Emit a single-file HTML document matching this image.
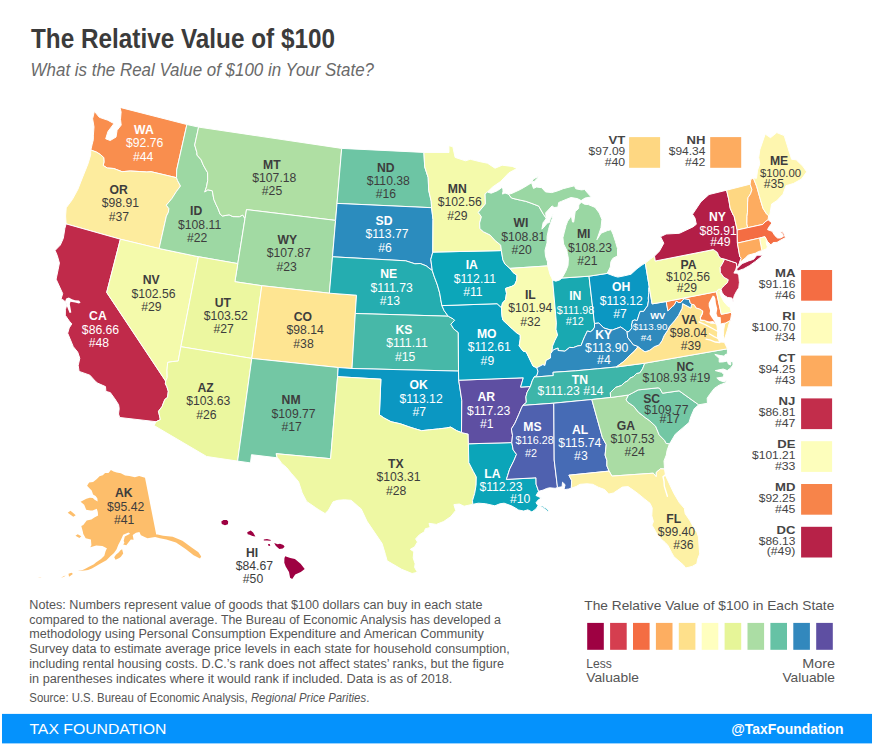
<!DOCTYPE html>
<html><head><meta charset="utf-8"><title>The Relative Value of $100</title>
<style>
html,body{margin:0;padding:0;background:#fff;}
body{width:872px;height:744px;overflow:hidden;position:relative;font-family:"Liberation Sans",sans-serif;}
svg{position:absolute;left:0;top:0;}
svg text{font-family:"Liberation Sans",sans-serif;text-anchor:middle;}
svg .l{text-anchor:start;}
svg .r{text-anchor:end;}
</style></head><body>
<svg width="872" height="744" viewBox="0 0 872 744">
<g stroke="#fff" stroke-width="1" stroke-linejoin="round">
<path d="M94.4,111.3L99.3,117.3L107.8,120.2L112.5,122.8L113.7,123.9L108,131.4L105.7,138.8L110.2,140.5L116,137.1L117.1,130.3L121.2,125.1L120.5,119.3L121.1,112L120,107.4L186.9,124.5L176.7,169.9L176.5,177.7L151.1,171.7L146.9,172L139.2,171.5L130.2,171L122.1,171.7L113.8,168.5L107.3,168L103.2,165.5L104,161.9L103.7,157.5L100.6,154.7L96.7,152.2L90.8,150L92.2,144.2L93.3,139.8L93.4,135.1L94,126.8L92.6,118.8Z" fill="#f98e4e"/>
<path d="M90.8,150L96.7,152.2L100.6,154.7L103.7,157.5L104,161.9L103.2,165.5L107.3,168L113.8,168.5L122.1,171.7L130.2,171L139.2,171.5L146.9,172L151.1,171.7L176.5,177.7L177.5,180.5L180.5,186L176.2,191.8L173.4,196.2L172.1,198.3L166.3,205.2L168.9,208.6L168.4,212.2L166.4,216.1L159.1,248.5L120.4,239.2L66.1,223.9L65.6,216L66.2,207.8L72.3,199.6L77.9,189.3L81.9,179L88,163.8L90.6,155.1Z" fill="#fdec9e"/>
<path d="M66.1,223.9L120.4,239.2L106.7,292.4L165.6,381L165.4,383.8L166.8,386.5L168.3,391.3L167.6,397.3L164.8,399.5L162.1,406.5L158.5,411.3L160.4,419.6L156.1,421.7L119.7,417.5L118.5,414L119.2,408.6L118.6,404.7L114.9,398.9L110.3,392.6L105.9,391.4L105.5,386.6L97.8,383.2L95.3,381.2L89.9,375.2L79.1,371.4L78.2,365.5L79.8,358.3L77.7,352.1L73.3,346.7L67.7,333.2L69.2,327.9L71.8,323.9L69.3,321.1L65.3,315.3L65.4,309.7L66.9,304.4L64.3,300.7L61.1,298.9L62.7,293.6L56.1,279.2L58.2,269.3L59.4,263L57.3,255.6L55.1,250.4L60.3,245.1L63.3,238.3L64.9,228.3Z" fill="#c02a4a"/>
<path d="M120.4,239.2L159.1,248.5L198.4,256.7L180.9,346.7L178.2,361.1L172.9,361.5L167.7,362.4L167,370.1L167.2,377.6L165.6,381L106.7,292.4Z" fill="#f4faab"/>
<path d="M186.9,124.5L198.6,127.1L194.7,145L196.9,152.5L197,155.1L201.1,159.8L203.2,164.9L206,170L207.6,172.6L207.7,180.5L206.5,186.8L204.8,192L207.8,189.8L212.3,190.8L213.8,199.3L216.2,204.9L217.8,208.1L220.2,214.3L222.5,216L229.1,214.8L232.9,216.6L239.4,216.7L242.7,215L245,218.6L237.8,263.6L198.4,256.7L159.1,248.5L166.4,216.1L168.4,212.2L168.9,208.6L166.3,205.2L172.1,198.3L173.4,196.2L176.2,191.8L180.5,186L177.5,180.5L176.5,177.7L176.7,169.9Z" fill="#9dd8a3"/>
<path d="M198.6,127.1L341.7,148.4L337,203.4L335.6,220.4L246.5,209.6L245,218.6L242.7,215L239.4,216.7L232.9,216.6L229.1,214.8L222.5,216L220.2,214.3L217.8,208.1L216.2,204.9L213.8,199.3L212.3,190.8L207.8,189.8L204.8,192L206.5,186.8L207.7,180.5L207.6,172.6L206,170L203.2,164.9L201.1,159.8L197,155.1L196.9,152.5L194.7,145Z" fill="#afdfa3"/>
<path d="M245,218.6L246.5,209.6L335.6,220.4L332.5,256.8L329.4,293.2L261.8,285.7L234.9,281.7L237.8,263.6Z" fill="#a2daa3"/>
<path d="M198.4,256.7L237.8,263.6L234.9,281.7L261.8,285.7L251.8,358.4L180.9,346.7Z" fill="#ecf7a0"/>
<path d="M261.8,285.7L329.4,293.2L356.5,295.2L355.3,313.5L352,368.5L338.2,367.5L251.8,358.4Z" fill="#fee592"/>
<path d="M180.9,346.7L251.8,358.4L237.6,461.1L206.7,456.5L154,425.5L156.1,421.7L160.4,419.6L158.5,411.3L162.1,406.5L164.8,399.5L167.6,397.3L168.3,391.3L166.8,386.5L165.4,383.8L165.6,381L167.2,377.6L167,370.1L167.7,362.4L172.9,361.5L178.2,361.1Z" fill="#ebf79f"/>
<path d="M251.8,358.4L338.2,367.5L337.6,376.7L330.6,458.7L276.2,453.7L277.2,457.8L251.5,454.7L250.5,462.9L237.6,461.1Z" fill="#73c7a4"/>
<path d="M341.7,148.4L423.9,152.4L424.7,166.8L428.2,177.7L428.7,190.3L431.2,201.2L431.6,207.7L337,203.4Z" fill="#6dc5a4"/>
<path d="M337,203.4L431.6,207.7L433,219.4L432.8,252.1L430.8,259.4L432.3,270.6L426.1,265.8L420.2,263.5L414.9,263.8L405.7,260.8L332.5,256.8L335.6,220.4Z" fill="#2b8cbe"/>
<path d="M332.5,256.8L405.7,260.8L414.9,263.8L420.2,263.5L426.1,265.8L432.3,270.6L434,275.9L437.4,285L439.7,293.1L440.8,299.7L441.9,305.6L444.2,310.7L448.2,316.2L355.3,313.5L356.5,295.2L329.4,293.2Z" fill="#25adb0"/>
<path d="M355.3,313.5L448.2,316.2L453.2,318.9L454.6,320.3L450.9,324.2L453.7,328.9L458.3,332.5L458.5,371.1L352,368.5Z" fill="#47b8a8"/>
<path d="M338.2,367.5L352,368.5L458.5,371.1L458.7,380.2L461.8,400.4L461.5,432.6L456.7,430.7L450.7,427.1L446.2,428L438.7,428.9L429.7,429.8L421.5,430.7L414.8,428.7L408.8,426.8L400.4,423.8L391,421.7L383.7,417.8L379.4,414.7L380.9,379.2L337.6,376.7Z" fill="#0b97c2"/>
<path d="M337.6,376.7L380.9,379.2L379.4,414.7L383.7,417.8L391,421.7L400.4,423.8L408.8,426.8L414.8,428.7L421.5,430.7L429.7,429.8L438.7,428.9L446.2,428L450.7,427.1L456.7,430.7L461.5,432.6L468.2,434.1L468.4,443.8L468.8,462.6L473.4,471.5L476.3,476.9L476.1,485.1L474.7,493.3L472.5,500.6L472.8,504.3L464.1,506.2L459.4,504L453.9,504.6L455.7,510.5L450.8,516.6L443.7,521.5L436.3,524.4L429,523.3L430.2,527.5L425.4,528.7L424.3,531.8L419.4,534.8L415.6,538.9L417.5,542L414.5,546.9L410.3,549.3L413.8,551.7L413.2,557.9L415.1,563.8L414.6,567.4L417.4,572.3L412.1,573.5L401.7,569.3L392.8,564.1L387.1,560.8L385.4,554.4L382.1,543.5L366.9,521.1L361.1,508.8L358.9,507.1L351.2,500.3L344.3,499.8L337.9,500.3L333.1,501.8L328.5,510.1L325.1,513.6L318.2,509.4L315.5,507.6L306.6,501.4L302.2,492.9L298.5,481.6L291.5,473.6L286.6,467.6L281.7,463.4L278.3,458.5L277.2,457.8L276.2,453.7L330.6,458.7Z" fill="#eef8a3"/>
<path d="M468.4,443.8L511.8,442.6L513.2,449.9L516.5,454.3L513.8,460.8L509.6,469.2L507.6,475.7L506.4,479.4L536,477.8L536.1,484.2L538.6,491.3L536,495.5L541.3,498L538.1,500.1L536,502.8L538.1,505.7L536,508.9L531.9,511.9L527.8,509.8L523.7,511L518.6,510L515.4,508L511.4,505.8L504.1,503.2L499.9,503.8L494.8,505.8L485.5,503.7L478.3,503.2L472.8,504.3L472.5,500.6L474.7,493.3L476.1,485.1L476.3,476.9L473.4,471.5L468.8,462.6ZM539.6,506.3L543.2,507.7L547.4,511.3L549,511.1L545.6,508.1L542.3,506Z" fill="#0ba5b9"/>
<path d="M458.7,380.2L523.3,377.8L520.6,387.1L530.4,386.5L527.1,392.2L525.9,396.9L526.3,402.4L522.8,405.4L521.4,408.2L518.8,414.4L514.9,423.2L511.4,428.9L512.5,435.3L511.8,442.6L468.4,443.8L468.2,434.1L461.5,432.6L461.8,400.4Z" fill="#5e4fa2"/>
<path d="M441.9,305.6L497.1,303.7L501.5,307.7L502,315.9L502.9,320.1L507.5,324.5L512.3,328.8L517,333.1L520.2,334.8L520.3,338.8L519.2,345.9L523.1,351.1L526.2,351.9L531.4,362.6L533.1,366.1L536.8,367.7L538,371.3L536.9,375.6L534.1,377.1L532.2,380.9L530.4,386.5L520.6,387.1L523.3,377.8L458.7,380.2L458.5,371.1L458.3,332.5L453.7,328.9L450.9,324.2L454.6,320.3L453.2,318.9L448.2,316.2L444.2,310.7Z" fill="#0aa0bf"/>
<path d="M432.8,252.1L501.4,250.6L502.8,259.6L505,264.1L510,268.4L513.2,272.6L517,275.3L516.7,280.1L514.8,284.6L512,286.3L505.6,288.4L506.5,293.3L505.5,299.8L502.5,303.1L501.5,307.7L497.1,303.7L441.9,305.6L440.8,299.7L439.7,293.1L437.4,285L434,275.9L432.3,270.6L430.8,259.4Z" fill="#0ca6b9"/>
<path d="M423.9,152.4L449,152.5L448.9,145.7L452.8,146.7L455.1,157.4L465.5,160.8L470.3,159.3L480.1,161.7L487.5,163.2L495,168.2L502.2,165.2L512.1,166.4L517.1,168.4L508.8,172.9L500.6,181.5L492.6,187L487.4,192.1L485.1,193.8L485.4,203.9L478.3,212.4L481.4,216.8L479.6,223L479.9,228.7L483.5,231.8L490.1,235L495.4,240.8L500.7,245.1L501.4,250.6L432.8,252.1L433,219.4L431.6,207.7L431.2,201.2L428.7,190.3L428.2,177.7L424.7,166.8Z" fill="#f4faab"/>
<path d="M487.4,192.1L491.2,193.2L497.4,190.7L501.6,187.8L502.9,188.6L503,191.3L502.5,194.1L505,193L508.6,194.3L511.6,198.1L520.5,200.2L525.7,201.3L530.9,203.1L538.7,206.1L543.2,213.9L546.2,218.2L544.5,221.1L543.2,222.3L541.9,229.2L545.3,225.6L547.2,223.1L549.4,222.5L550.3,218.8L552.1,216.1L553.2,214.1L552.2,218.4L551.7,219.9L550.5,223.3L549.2,227.1L548.5,229.7L547.1,236.4L547,242.9L545,250.4L545.5,256.2L547.4,261.7L547.7,265.9L510,268.4L505,264.1L502.8,259.6L501.4,250.6L500.7,245.1L495.4,240.8L490.1,235L483.5,231.8L479.9,228.7L479.6,223L481.4,216.8L478.3,212.4L485.4,203.9L485.1,193.8Z" fill="#8ed2a3"/>
<path d="M510,268.4L547.7,265.9L550.1,274.7L551.4,277.3L552.6,280L556.4,322.9L556,329.3L557.6,335.1L554.9,340.5L552.5,346.2L552,351.8L550.6,353.7L550.5,358L546.1,360.4L544.8,365.6L542.9,364.5L539.1,366.6L536.8,367.7L533.1,366.1L531.4,362.6L526.2,351.9L523.1,351.1L519.2,345.9L520.3,338.8L520.2,334.8L517,333.1L512.3,328.8L507.5,324.5L502.9,320.1L502,315.9L501.5,307.7L502.5,303.1L505.5,299.8L506.5,293.3L505.6,288.4L512,286.3L514.8,284.6L516.7,280.1L517,275.3L513.2,272.6Z" fill="#f8fcb3"/>
<path d="M552.6,280L555.8,281.2L559.7,279.9L562,278L589,276.2L594.5,323.5L594.5,327.2L592.7,330.2L590.3,331.8L587.4,331L584.7,336.6L583.1,340.3L581.1,345.5L577.8,345.9L573.3,347.6L569.6,347.4L564.9,351.2L558,350.5L558.1,348.1L553.5,349.8L552,351.8L552.5,346.2L554.9,340.5L557.6,335.1L556,329.3L556.4,322.9Z" fill="#19a9b1"/>
<path d="M589,276.2L607.1,273.4L613.5,275.8L617.8,277.1L624.4,275.8L631,274.2L637,268.7L641.9,265.1L645.3,263.1L649.3,287.3L648.8,287.7L648.9,292.5L648.3,298L648.5,300.8L647.6,305.9L646,307.9L643.7,311.4L640.2,311.4L639.1,314.3L637.2,320.5L634.4,320L632.4,320.9L632.2,323.3L631.5,324L632,327.8L629,331.6L627.1,331.9L626.3,331L623.7,329L620.6,327L612.5,330L610.1,329.9L603.7,327.9L598.9,323L594.5,323.5Z" fill="#0b97c2"/>
<path d="M562,278L565.7,271.4L568,265.6L568.4,258.6L567.4,253.6L566.9,250.5L563.6,244L562.9,237.7L564.3,232.1L566,225.5L567.6,221.3L571.4,215.7L572.5,222L573.7,222.1L575.2,211.5L578.6,208.5L578.8,204.9L581.3,202.2L584.4,204.2L588.3,204.6L595.1,207.4L599.3,213.1L601.9,219.4L601,227.7L596.9,239.7L601.1,233.2L607.4,230.6L611.1,229.7L613.1,234.4L615.4,241.4L617.5,248.5L617.5,255.9L612.8,258.4L610.9,261.8L610.3,267L607.1,273.4L589,276.2ZM546.2,218.2L545.7,212.8L552.1,205.9L554.1,207.5L557.9,207.1L558.7,202.5L561.8,201.2L570.9,197.5L577.4,198.6L581.1,200.6L585,198.1L591.2,196.9L588.2,193.7L584.6,189.5L581.4,189.9L575.8,188.8L574.4,185.8L563.1,188.7L558.1,190.7L551.8,192.6L545.5,191.9L541.7,187.7L536.6,187L533.5,188.4L531.5,182.7L527.7,185.2L520.3,189.5L512,193.3L508.6,194.3L511.6,198.1L520.5,200.2L525.7,201.3L530.9,203.1L538.7,206.1L543.2,213.9ZM531.6,182L533.5,178.9L538.6,176.3L537.3,178.3L534.2,181.4Z" fill="#9ad7a3"/>
<path d="M594.5,323.5L598.9,323L603.7,327.9L610.1,329.9L612.5,330L620.6,327L623.7,329L626.3,331L627.1,331.9L627.7,337.5L633.4,344.8L636.1,345.7L638.1,346.6L634.1,351.6L630.2,354.9L627,358.2L623.9,361.4L619.2,364.8L616.2,367L597.2,368.8L575.6,370.8L553,372.3L553.3,375.6L534.1,377.1L536.9,375.6L538,371.3L536.8,367.7L539.1,366.6L542.9,364.5L544.8,365.6L546.1,360.4L550.5,358L550.6,353.7L552,351.8L553.5,349.8L558.1,348.1L558,350.5L564.9,351.2L569.6,347.4L573.3,347.6L577.8,345.9L581.1,345.5L583.1,340.3L584.7,336.6L587.4,331L590.3,331.8L592.7,330.2L594.5,327.2Z" fill="#2f8abd"/>
<path d="M534.1,377.1L553.3,375.6L553,372.3L575.6,370.8L597.2,368.8L616.2,367L644.8,363.2L642.5,368.9L639.7,373L636.5,373.5L633.3,376.7L630.1,378.1L628,380.6L624.5,382.6L621.3,385.6L615.6,387.4L610.3,392.7L610.6,397.5L591.8,399.5L553.7,403.2L522.8,405.4L526.3,402.4L525.9,396.9L527.1,392.2L530.4,386.5L532.2,380.9Z" fill="#3db5a9"/>
<path d="M522.8,405.4L553.7,403.2L553.8,405L554.2,460L557.5,487.5L555.2,488.3L549.6,487.8L546.6,488.5L543.1,490.1L538.6,491.3L536.1,484.2L536,477.8L506.4,479.4L507.6,475.7L509.6,469.2L513.8,460.8L516.5,454.3L513.2,449.9L511.8,442.6L512.5,435.3L511.4,428.9L514.9,423.2L518.8,414.4L521.4,408.2Z" fill="#4f61af"/>
<path d="M553.7,403.2L591.8,399.5L602.4,437.5L606.2,444.6L605.1,455.1L606.9,460.4L606.9,465.9L609.1,471.1L568.9,475.2L571.7,480.5L571.3,488.2L568.6,489L563.9,489.7L565.1,484.7L562.5,482.2L562.1,486.8L557.5,487.5L554.2,460L553.8,405Z" fill="#466bb5"/>
<path d="M591.8,399.5L610.6,397.5L628.5,395L626.1,399.9L628,402.4L633.7,406.3L638.3,412.1L645.2,417.6L649.1,420.3L655.6,426.2L659.2,434.9L664.7,440.5L666.1,443.4L669.5,443.8L667.1,450.3L666.3,455L664,460.9L664.5,469L660.5,468.8L656.3,472.2L656.2,476.7L653.3,473.2L633,474.6L611.9,476.1L609.1,471.1L606.9,465.9L606.9,460.4L605.1,455.1L606.2,444.6L602.4,437.5Z" fill="#aadca4"/>
<path d="M609.1,471.1L611.9,476.1L633,474.6L653.3,473.2L656.2,476.7L656.3,472.2L660.5,468.8L664.5,469L665.5,475.4L669.1,483.2L673.9,493.4L679.4,502.7L684.3,508.3L685.2,513.7L690.2,521.1L691.9,524.5L697.1,532.8L698.5,537.1L699.2,547.9L699.7,553.9L697.7,559.1L696.8,563.8L692.2,566.4L685.7,568L683.5,565.1L673.8,556.6L671.5,552.4L668,545.6L665.1,542.4L661.3,539.3L656.3,532.7L651.9,525.1L653.4,521.6L651.8,515.8L652.2,507.9L650,503.3L644.2,498.7L638.5,494L633.9,490.6L628.1,486.6L622.3,487.1L617.8,490.1L613.4,493L608.7,494.1L604.7,489.6L598.3,487.2L592.7,484.3L587,483.8L579.9,484.3L576.2,486.5L571.3,488.2L571.7,480.5L568.9,475.2Z" fill="#fdf1a5"/>
<path d="M628.5,395L632.6,392.9L638.2,389.9L658.1,387.8L659.8,388.5L662.5,393.2L679.1,390.8L698.7,404.8L694.2,408.8L690.8,416.7L689,422.5L682.1,428.4L675.3,434.2L671.1,441.3L669.5,443.8L666.1,443.4L664.7,440.5L659.2,434.9L655.6,426.2L649.1,420.3L645.2,417.6L638.3,412.1L633.7,406.3L628,402.4L626.1,399.9Z" fill="#73c7a4"/>
<path d="M610.6,397.5L610.3,392.7L615.6,387.4L621.3,385.6L624.5,382.6L628,380.6L630.1,378.1L633.3,376.7L636.5,373.5L639.7,373L642.5,368.9L644.8,363.2L727.5,348.8L727.3,354.1L725.2,354.5L724.4,356.2L720.8,355.6L714.8,354.4L716.8,356.1L719.2,358.6L719.2,362.1L723.2,361.9L727.3,361L728.4,364.1L730.6,365L730.8,361.4L732.9,361.9L733,365L730.5,368.2L727.2,370.6L723.2,369L715.3,370.6L721.6,372.3L724,374.6L723.2,377L716.8,378L719.2,380.3L724.1,381.9L726.4,380.3L725.6,382.7L719.1,385.2L714.3,388.4L709.5,394.7L707.2,398.2L707.4,403.3L698.7,404.8L679.1,390.8L662.5,393.2L659.8,388.5L658.1,387.8L638.2,389.9L632.6,392.9L628.5,395Z" fill="#8cd1a3"/>
<path d="M616.2,367L619.2,364.8L623.9,361.4L627,358.2L630.2,354.9L634.1,351.6L638.1,346.6L641.7,349.5L645,351.8L649.8,350.2L654.3,346.7L659.1,344.9L662,340.7L664,335.8L667.5,330.5L669.6,326.4L674.4,320.9L678.4,315.5L682,308.3L682.6,303.6L690.8,308L691.6,304.3L694.2,304.7L696.2,308L699.2,308.8L701.2,309.7L702.8,311.8L702.4,313.5L700.4,317.5L700.8,320.6L704.5,320.2L705.8,321.5L711.4,323.1L715.5,323.4L717,325.7L717.7,332.1L717.4,337.8L719.7,342L724.2,342.3L725,343.7L727.5,348.8L644.8,363.2ZM730.5,320.3L729,324L727.4,330L724.8,338.1L723.5,338.9L723.5,335.6L723.7,329.9L724.7,324L725.9,322.9Z" fill="#fee490"/>
<path d="M649.3,287.3L652.1,303.9L666.2,301.5L667.9,310.9L672.5,306.4L674,305.3L676.3,301L678.8,302.6L680.9,302.4L684,298.6L689.3,299.5L690.1,302.5L691.6,304.3L690.8,308L682.6,303.6L682,308.3L678.4,315.5L674.4,320.9L669.6,326.4L667.5,330.5L664,335.8L662,340.7L659.1,344.9L654.3,346.7L649.8,350.2L645,351.8L641.7,349.5L638.1,346.6L636.1,345.7L633.4,344.8L627.7,337.5L627.1,331.9L629,331.6L632,327.8L631.5,324L632.2,323.3L632.4,320.9L634.4,320L637.2,320.5L639.1,314.3L640.2,311.4L643.7,311.4L646,307.9L647.6,305.9L648.5,300.8L648.3,298L648.9,292.5L648.8,287.7Z" fill="#2f8abd"/>
<path d="M666.2,301.5L716.4,291.7L721.3,314.3L731.5,312.2L731.5,314.5L730.5,320.3L725.9,322.9L721,323.9L715.5,323.4L711.4,323.1L705.8,321.5L704.5,320.2L700.8,320.6L700.4,317.5L702.4,313.5L702.8,311.8L701.2,309.7L699.2,308.8L696.2,308L694.2,304.7L691.6,304.3L690.1,302.5L689.3,299.5L684,298.6L680.9,302.4L678.8,302.6L676.3,301L674,305.3L672.5,306.4L667.9,310.9Z" fill="#f7844a"/>
<path d="M716.4,291.7L718.5,289.2L721.1,289.2L720,292.8L720.8,295.8L723.8,301.7L728,306.4L729.9,306.9L731.5,312.2L721.3,314.3Z" fill="#fdfebc"/>
<path d="M645.3,263.1L650.4,259.1L654.5,256.1L655.3,261L713.3,249.6L714.4,250.3L717.4,252.5L718.7,255.9L720.8,258.3L724.6,259.1L723.1,262.4L720.2,267.4L720.4,272.6L723.9,277.3L728.3,279.7L727.4,282.7L724.2,285.6L722.4,287.6L721.1,289.2L718.5,289.2L716.4,291.7L666.2,301.5L652.1,303.9L649.3,287.3Z" fill="#f4faab"/>
<path d="M724.6,259.1L736.5,263.1L736.7,265.9L736.2,268.8L733.9,273.1L737.5,273.2L738.8,275.7L739.4,282.4L738.8,287.8L736.5,291.3L734.2,295.8L733.7,298L733.1,301.7L731.9,298L727.7,297.5L724,295.3L722.1,292.5L721.1,289.2L722.4,287.6L724.2,285.6L727.4,282.7L728.3,279.7L723.9,277.3L720.4,272.6L720.2,267.4L723.1,262.4Z" fill="#c22d4b"/>
<path d="M654.5,256.1L659.4,251.2L663.8,243.2L660.5,236.7L666.1,234L679.4,233.3L692.9,226.9L696.3,224.3L695,218.1L692.5,214.3L700.8,201.9L709,194.5L726.6,190.2L728.7,199.2L730.2,208.2L733.2,215L734,215.7L737.2,230L737.4,243.1L739.8,256.6L741.2,258.2L739.7,262.3L738.4,265.4L736.2,268.8L736.7,265.9L736.5,263.1L724.6,259.1L720.8,258.3L718.7,255.9L717.4,252.5L714.4,250.3L713.3,249.6L655.3,261ZM736.6,270.6L738.3,270.8L743.5,268.9L749.7,265.5L755.7,261.2L763.1,255.2L756.9,255.2L753.7,259.3L748.6,260.9L742.2,263.6L739.3,266.2L737.1,268.6Z" fill="#b31e47"/>
<path d="M726.6,190.2L750.1,184.2L751.9,189.6L750.6,193.7L748,197.7L747.6,202.9L747.5,212.2L747,216.3L746.9,223.8L747.7,227.7L737.2,230L734,215.7L733.2,215L730.2,208.2L728.7,199.2Z" fill="#fed782"/>
<path d="M750.1,184.2L750.8,179.5L753.3,177.9L756.7,186.4L760.6,200.4L763,208.3L766.5,213.9L768.6,215.6L768.1,219.8L764.9,222L762.8,224.4L747.7,227.7L746.9,223.8L747,216.3L747.5,212.2L747.6,202.9L748,197.7L750.6,193.7L751.9,189.6Z" fill="#fdac60"/>
<path d="M753.3,177.9L756.5,178.3L757.6,170.1L759.8,163.9L758.7,157.6L759.8,149.8L765.2,134.1L770.5,137.7L776.8,132.6L784.2,135.6L791.6,159.3L796.2,159.8L802.9,166.3L806.7,171.8L801.5,179.1L793.4,183.5L786,185.7L783,194.2L776.8,200.7L771.6,204L769.8,214.9L768.6,215.6L766.5,213.9L763,208.3L760.6,200.4L756.7,186.4Z" fill="#fef6af"/>
<path d="M737.2,230L747.7,227.7L762.8,224.4L764.9,222L768.1,219.8L772,222.9L768.5,227.6L767.6,229.7L772.2,231.3L774.7,235.4L777.5,238L780.3,238L783.4,236.4L782.7,234.1L780.8,232.2L780,231.7L782,231.5L784,233.8L785.4,237.7L780.9,240L777,242.4L773.2,242.5L770.8,245L767.2,241.2L764.9,236.7L759.5,238.1L737.4,243.1Z" fill="#f46d43"/>
<path d="M759.5,238.1L764.9,236.7L767.2,241.2L770.8,245L769.9,245.8L767.3,246.9L766.7,248.7L761.9,250.7Z" fill="#fffdbb"/>
<path d="M737.4,243.1L759.5,238.1L761.9,250.7L758.7,251.4L755.7,253.1L748.2,255.2L745.1,258.2L741,261.5L739.7,262.3L741.2,258.2L739.8,256.6Z" fill="#fdab5e"/>
<path d="M145,477.8L139.1,476L134.9,477.2L129.4,476L125.1,475.4L120.8,473.2L116.6,472.6L113.5,471.4L110.9,470.1L108.5,473L105.1,473.1L102.8,475.3L99.5,476.2L96.9,478.9L93.1,482.1L89.1,482.6L87.1,485.7L89.7,488.4L91.7,490.6L93.1,494.5L95.6,496.1L97.3,498.2L97.7,501.4L94.6,499.8L92.8,498L89.8,497.8L86.4,498.7L80.6,501.7L84.2,504.7L86.2,509.8L90.5,510.5L92.6,510.5L96.8,508.8L97.8,512L98.1,515.4L94.4,517.4L91.4,519.4L86.7,520.6L83.3,525.1L81.3,526L82.8,531.4L83.3,534L85.7,538.2L90.9,539.5L91.4,545.2L90.3,547.3L96.2,545.4L102.4,545.9L106.9,548.2L105.5,551.4L104.3,555.8L101,559L95.9,562.6L93.9,564.3L88.5,566.9L85.8,568.4L82.7,569.9L77.5,570.9L84.4,570.4L88.1,570L91.9,568.5L101.4,563.1L106.4,560.2L110.6,556L114,553L116.6,549.2L118.2,544.9L120.6,540.5L123.2,534.8L128.5,532.6L130.1,533.8L124.8,536.6L123.7,540.7L124.4,542.8L123.2,544.4L126.3,545.3L130.8,539.4L133.6,539.8L132.7,535L136,532.7L139.4,532.1L140.9,535.3L141.6,535.6L144.1,536.7L147.5,538.2L155.1,536.9L159.9,538.3L166.3,539.6L176,542.6L185.6,549L193.6,555.2L200,558.6L201.2,556.5L198.4,552.3L192,547.8L182.4,540.8L172.7,536.8L163.1,535.8L157.5,534.6L156.2,534.4ZM122.1,549.2L123.2,553.5L120.9,556.7L119.3,557.9L115.6,559.8L114.2,557.3L115.9,554.8L118.9,552.3L120.2,550.5ZM81.3,536.2L79.4,538.1L75.5,535.7L77.7,534.2ZM75.7,515.3L73.3,516.7L67.7,512.7L70.5,510.8L72.9,512.7ZM72.9,573.9L69,576.7L68.5,573.7L71.6,572.7ZM65.8,575.7L61,578.1L63.8,575.9ZM41.7,577.1L37.5,577.7L40.1,577Z" fill="#fdbe6b" stroke="none"/>
<path d="M285.1,556.2L290.3,557.9L294.9,559.1L300.6,563.7L304.7,569.1L300.8,572L295.2,574.4L292.2,579L290.1,577.7L289,572L285.7,566.4L284.3,562.8L284.4,558.5ZM274.2,543.1L277.7,544.2L280,543.7L283.4,544.9L284.6,546.7L282.8,548.5L279.4,548.9L277.6,547.4L275.7,545.7ZM263.8,539.4L267,539L270.9,539.9L270.5,540.8L267,540.5L263.8,540.4ZM268,543.9L269.7,543.9L270.3,545.7L268.6,545.9ZM247.2,532.3L250.7,530.5L253.1,532.4L255.4,536.5L252.4,536L249.6,534.8L247.7,534.2ZM221.3,521.5L223.5,520.1L226.8,520L228.2,521.5L227.9,524.3L225,525.2L221.8,524Z" fill="#9e0142" stroke="none"/>
</g>
<g><path d="M65,301.5L66.2,298.6L68.8,297.6L72,299.3L75,300.3L79,300.6L80.6,302.4L79,303.4L75,302.6L70.5,301.8L69.8,304L71.3,312.4L69.6,312.9L67,306.5L66.3,303.2Z" fill="#fff"/>
<path d="M712.8,295.5L711.1,298.4L708.7,302.9L708.7,306.3L710.1,310.6L709.5,313.9L711.3,317.1L713.8,320.7L715.5,323.4L718.9,324.2L720.9,323.4L720.9,320.2L720.7,317.2L717.6,316.7L716.5,313.4L717.3,308.7L716,303.8L715.4,298.8L714.4,296.2Z" fill="#fff"/>
<path d="M765.6,240.3L767,241.8L769,243.6L769.9,245.8L768.7,246.7L767,246.7L766,244.4L765.8,242.1Z" fill="#fff"/>
<path d="M700.8,320.6L704.5,320.2L705.8,321.5L711.4,323.1L715.5,323.4L713.1,320.9L708.9,321.4L705.1,320.3L701.3,319.5Z" fill="#fff"/>
<path d="M665.4,474.9L663,476.7L664,481L664.3,486.1L665.8,491L667.4,496.3" fill="none" stroke="#fff" stroke-width="1.4" stroke-linecap="round"/>
<path d="M698.9,321.9L706.1,325.1L712.5,328.5L717.5,331.2" fill="none" stroke="#fff" stroke-width="1.3" stroke-linecap="round"/>
<path d="M709.3,333.8L714.2,336.6L717.5,338.3" fill="none" stroke="#fff" stroke-width="1.2" stroke-linecap="round"/>
<path d="M706,339.2L710.6,340.1L715.3,342L719.9,342.5" fill="none" stroke="#fff" stroke-width="1.3" stroke-linecap="round"/>
<path d="M702.6,310.9L702.4,313.5L700.4,317.5L700.7,320" fill="none" stroke="#fff" stroke-width="1.1" stroke-linecap="round"/></g>
<g><text x="143.9" y="133.7" fill="#ffffff" font-size="12.2" font-weight="bold">WA</text>
<text x="144.7" y="147.3" fill="#ffffff" font-size="12.2">$92.76</text>
<text x="143.2" y="160.7" fill="#ffffff" font-size="12.2">#44</text>
<text x="118.6" y="193.8" fill="#3d3d3d" font-size="12.2" font-weight="bold">OR</text>
<text x="120.4" y="207.2" fill="#3d3d3d" font-size="12.2">$98.91</text>
<text x="118.9" y="220.6" fill="#3d3d3d" font-size="12.2">#37</text>
<text x="97.9" y="319.9" fill="#ffffff" font-size="12.2" font-weight="bold">CA</text>
<text x="100.5" y="333.6" fill="#ffffff" font-size="12.2">$86.66</text>
<text x="98.9" y="346.9" fill="#ffffff" font-size="12.2">#48</text>
<text x="151.2" y="283.8" fill="#3d3d3d" font-size="12.2" font-weight="bold">NV</text>
<text x="153.5" y="297.5" fill="#3d3d3d" font-size="12.2">$102.56</text>
<text x="151.3" y="310.6" fill="#3d3d3d" font-size="12.2">#29</text>
<text x="196.2" y="215" fill="#3d3d3d" font-size="12.2" font-weight="bold">ID</text>
<text x="199.6" y="228.8" fill="#3d3d3d" font-size="12.2">$108.11</text>
<text x="197.1" y="242.1" fill="#3d3d3d" font-size="12.2">#22</text>
<text x="271.9" y="168.9" fill="#3d3d3d" font-size="12.2" font-weight="bold">MT</text>
<text x="274.3" y="181.8" fill="#3d3d3d" font-size="12.2">$107.18</text>
<text x="272" y="195.1" fill="#3d3d3d" font-size="12.2">#25</text>
<text x="287.2" y="243.5" fill="#3d3d3d" font-size="12.2" font-weight="bold">WY</text>
<text x="288.8" y="256.6" fill="#3d3d3d" font-size="12.2">$107.87</text>
<text x="286.6" y="270.6" fill="#3d3d3d" font-size="12.2">#23</text>
<text x="222.8" y="306.5" fill="#3d3d3d" font-size="12.2" font-weight="bold">UT</text>
<text x="225.7" y="319.8" fill="#3d3d3d" font-size="12.2">$103.52</text>
<text x="223.6" y="333.3" fill="#3d3d3d" font-size="12.2">#27</text>
<text x="302.9" y="320.8" fill="#3d3d3d" font-size="12.2" font-weight="bold">CO</text>
<text x="305.2" y="334.3" fill="#3d3d3d" font-size="12.2">$98.14</text>
<text x="303.5" y="347.7" fill="#3d3d3d" font-size="12.2">#38</text>
<text x="205.7" y="391.9" fill="#3d3d3d" font-size="12.2" font-weight="bold">AZ</text>
<text x="208.2" y="405.4" fill="#3d3d3d" font-size="12.2">$103.63</text>
<text x="206.3" y="418.8" fill="#3d3d3d" font-size="12.2">#26</text>
<text x="291.1" y="404" fill="#3d3d3d" font-size="12.2" font-weight="bold">NM</text>
<text x="293.6" y="417.5" fill="#3d3d3d" font-size="12.2">$109.77</text>
<text x="291.7" y="430.9" fill="#3d3d3d" font-size="12.2">#17</text>
<text x="385.8" y="171.5" fill="#3d3d3d" font-size="12.2" font-weight="bold">ND</text>
<text x="388.3" y="185" fill="#3d3d3d" font-size="12.2">$110.38</text>
<text x="385.9" y="198.4" fill="#3d3d3d" font-size="12.2">#16</text>
<text x="384" y="224.9" fill="#ffffff" font-size="12.2" font-weight="bold">SD</text>
<text x="387" y="238.4" fill="#ffffff" font-size="12.2">$113.77</text>
<text x="385.1" y="251.8" fill="#ffffff" font-size="12.2">#6</text>
<text x="457.3" y="192.6" fill="#3d3d3d" font-size="12.2" font-weight="bold">MN</text>
<text x="459.8" y="206.1" fill="#3d3d3d" font-size="12.2">$102.56</text>
<text x="457.4" y="219.5" fill="#3d3d3d" font-size="12.2">#29</text>
<text x="388.7" y="278.2" fill="#ffffff" font-size="12.2" font-weight="bold">NE</text>
<text x="391.7" y="291.7" fill="#ffffff" font-size="12.2">$111.73</text>
<text x="389.8" y="305.1" fill="#ffffff" font-size="12.2">#13</text>
<text x="404" y="333.6" fill="#ffffff" font-size="12.2" font-weight="bold">KS</text>
<text x="407" y="347.1" fill="#ffffff" font-size="12.2">$111.11</text>
<text x="405.1" y="360.5" fill="#ffffff" font-size="12.2">#15</text>
<text x="418.6" y="389" fill="#ffffff" font-size="12.2" font-weight="bold">OK</text>
<text x="421.1" y="402.5" fill="#ffffff" font-size="12.2">$113.12</text>
<text x="419.2" y="415.9" fill="#ffffff" font-size="12.2">#7</text>
<text x="395.9" y="467.7" fill="#3d3d3d" font-size="12.2" font-weight="bold">TX</text>
<text x="398.5" y="480.9" fill="#3d3d3d" font-size="12.2">$103.31</text>
<text x="396.2" y="494.6" fill="#3d3d3d" font-size="12.2">#28</text>
<text x="471.8" y="269" fill="#ffffff" font-size="12.2" font-weight="bold">IA</text>
<text x="474.8" y="282.5" fill="#ffffff" font-size="12.2">$112.11</text>
<text x="472.9" y="295.9" fill="#ffffff" font-size="12.2">#11</text>
<text x="486.8" y="337.6" fill="#ffffff" font-size="12.2" font-weight="bold">MO</text>
<text x="489.3" y="351.1" fill="#ffffff" font-size="12.2">$112.61</text>
<text x="487.4" y="364.5" fill="#ffffff" font-size="12.2">#9</text>
<text x="486.2" y="401.4" fill="#ffffff" font-size="12.2" font-weight="bold">AR</text>
<text x="488.7" y="414.9" fill="#ffffff" font-size="12.2">$117.23</text>
<text x="486.8" y="428.3" fill="#ffffff" font-size="12.2">#1</text>
<text x="492.4" y="478" fill="#ffffff" font-size="12.2" font-weight="bold">LA</text>
<text x="501" y="491.3" fill="#ffffff" font-size="12.2">$112.23</text>
<text x="520.1" y="503.2" fill="#ffffff" font-size="12.2">#10</text>
<text x="532.4" y="431.4" fill="#ffffff" font-size="12.2" font-weight="bold">MS</text>
<text x="534.7" y="444.3" fill="#ffffff" font-size="10.8">$116.28</text>
<text x="531.1" y="456.7" fill="#ffffff" font-size="10.8">#2</text>
<text x="580" y="433.7" fill="#ffffff" font-size="12.2" font-weight="bold">AL</text>
<text x="579.8" y="446.7" fill="#ffffff" font-size="12.2">$115.74</text>
<text x="580.9" y="460.1" fill="#ffffff" font-size="12.2">#3</text>
<text x="626" y="429.6" fill="#3d3d3d" font-size="12.2" font-weight="bold">GA</text>
<text x="632.6" y="442.6" fill="#3d3d3d" font-size="12.2">$107.53</text>
<text x="634.7" y="455.6" fill="#3d3d3d" font-size="12.2">#24</text>
<text x="673.8" y="522.5" fill="#3d3d3d" font-size="12.2" font-weight="bold">FL</text>
<text x="676.5" y="535.7" fill="#3d3d3d" font-size="12.2">$99.40</text>
<text x="683.4" y="548.7" fill="#3d3d3d" font-size="12.2">#36</text>
<text x="651.6" y="402.5" fill="#3d3d3d" font-size="12.2" font-weight="bold">SC</text>
<text x="666.4" y="413.8" fill="#3d3d3d" font-size="12.2">$109.77</text>
<text x="669.7" y="423.2" fill="#3d3d3d" font-size="12.2">#17</text>
<text x="685.2" y="370.5" fill="#3d3d3d" font-size="12.2" font-weight="bold">NC</text>
<text x="676.5" y="382.4" fill="#3d3d3d" font-size="12.2">$108.93 #19</text>
<text x="579.9" y="384" fill="#ffffff" font-size="12.2" font-weight="bold">TN</text>
<text x="570.6" y="395.3" fill="#ffffff" font-size="12.2">$111.23 #14</text>
<text x="521" y="227.2" fill="#3d3d3d" font-size="12.2" font-weight="bold">WI</text>
<text x="523.3" y="241" fill="#3d3d3d" font-size="12.2">$108.81</text>
<text x="521.6" y="254.4" fill="#3d3d3d" font-size="12.2">#20</text>
<text x="583.7" y="238" fill="#3d3d3d" font-size="12.2" font-weight="bold">MI</text>
<text x="590.1" y="251.8" fill="#3d3d3d" font-size="12.2">$108.23</text>
<text x="587.4" y="265" fill="#3d3d3d" font-size="12.2">#21</text>
<text x="530.3" y="298.6" fill="#3d3d3d" font-size="12.2" font-weight="bold">IL</text>
<text x="530.3" y="312.1" fill="#3d3d3d" font-size="12.2">$101.94</text>
<text x="530.4" y="325.5" fill="#3d3d3d" font-size="12.2">#32</text>
<text x="575.3" y="299.8" fill="#ffffff" font-size="12.2" font-weight="bold">IN</text>
<text x="575.5" y="313.5" fill="#ffffff" font-size="10.8">$111.98</text>
<text x="574.7" y="325.1" fill="#ffffff" font-size="10.8">#12</text>
<text x="621.2" y="291.2" fill="#ffffff" font-size="12.2" font-weight="bold">OH</text>
<text x="621.3" y="304.9" fill="#ffffff" font-size="12.2">$113.12</text>
<text x="620.1" y="318.2" fill="#ffffff" font-size="12.2">#7</text>
<text x="603.6" y="339.3" fill="#ffffff" font-size="12.2" font-weight="bold">KY</text>
<text x="606.7" y="351.9" fill="#ffffff" font-size="12.2">$113.90</text>
<text x="603.9" y="364.3" fill="#ffffff" font-size="12.2">#4</text>
<text x="657.8" y="318.7" fill="#ffffff" font-size="9.5" font-weight="bold">WV</text>
<text x="650" y="329.9" fill="#ffffff" font-size="9.8">$113.90</text>
<text x="646.3" y="341.1" fill="#ffffff" font-size="9.8">#4</text>
<text x="689.4" y="323.6" fill="#3d3d3d" font-size="12.2" font-weight="bold">VA</text>
<text x="688.4" y="337.1" fill="#3d3d3d" font-size="12.2">$98.04</text>
<text x="690.9" y="349.8" fill="#3d3d3d" font-size="12.2">#39</text>
<text x="688.6" y="269.1" fill="#3d3d3d" font-size="12.2" font-weight="bold">PA</text>
<text x="688" y="281.2" fill="#3d3d3d" font-size="12.2">$102.56</text>
<text x="686.8" y="292.4" fill="#3d3d3d" font-size="12.2">#29</text>
<text x="717.4" y="220.7" fill="#ffffff" font-size="12.2" font-weight="bold">NY</text>
<text x="718.1" y="234.8" fill="#ffffff" font-size="12.2">$85.91</text>
<text x="720.3" y="245.8" fill="#ffffff" font-size="12.2">#49</text>
<text x="779.1" y="164.6" fill="#3d3d3d" font-size="12.2" font-weight="bold">ME</text>
<text x="780.5" y="176.7" fill="#3d3d3d" font-size="11.4">$100.00</text>
<text x="773.9" y="188.3" fill="#3d3d3d" font-size="12.2">#35</text>
<text x="123.7" y="496.8" fill="#3d3d3d" font-size="12.2" font-weight="bold">AK</text>
<text x="125.6" y="510.8" fill="#3d3d3d" font-size="12.2">$95.42</text>
<text x="124.2" y="523.6" fill="#3d3d3d" font-size="12.2">#41</text>
<text x="252.1" y="557" fill="#3d3d3d" font-size="12.2" font-weight="bold">HI</text>
<text x="254.3" y="570.2" fill="#3d3d3d" font-size="12.2">$84.67</text>
<text x="253" y="582.8" fill="#3d3d3d" font-size="12.2">#50</text>
<rect x="629.1" y="137.1" width="31" height="30.7" fill="#fed782"/>
<text textLength="16.8" lengthAdjust="spacingAndGlyphs" x="625.2" y="143.9" fill="#454545" font-size="11.4" font-weight="bold" style="text-anchor:end">VT</text>
<text textLength="36.6" lengthAdjust="spacingAndGlyphs" x="625.2" y="154.9" fill="#454545" font-size="11.4" style="text-anchor:end">$97.09</text>
<text textLength="20.5" lengthAdjust="spacingAndGlyphs" x="625.2" y="165.7" fill="#454545" font-size="11.4" style="text-anchor:end">#40</text>
<rect x="710.2" y="137.1" width="31" height="30.7" fill="#fdac60"/>
<text textLength="18.9" lengthAdjust="spacingAndGlyphs" x="705.4" y="143.9" fill="#454545" font-size="11.4" font-weight="bold" style="text-anchor:end">NH</text>
<text textLength="36.6" lengthAdjust="spacingAndGlyphs" x="705.4" y="154.9" fill="#454545" font-size="11.4" style="text-anchor:end">$94.34</text>
<text textLength="20.5" lengthAdjust="spacingAndGlyphs" x="705.4" y="165.7" fill="#454545" font-size="11.4" style="text-anchor:end">#42</text>
<rect x="801.1" y="270" width="31" height="30.7" fill="#f46d43"/>
<text textLength="20.4" lengthAdjust="spacingAndGlyphs" x="795.4" y="276.8" fill="#454545" font-size="11.4" font-weight="bold" style="text-anchor:end">MA</text>
<text textLength="36.6" lengthAdjust="spacingAndGlyphs" x="795.4" y="287.8" fill="#454545" font-size="11.4" style="text-anchor:end">$91.16</text>
<text textLength="20.5" lengthAdjust="spacingAndGlyphs" x="795.4" y="298.6" fill="#454545" font-size="11.4" style="text-anchor:end">#46</text>
<rect x="801.1" y="312.8" width="31" height="30.7" fill="#fffdbb"/>
<text textLength="13.1" lengthAdjust="spacingAndGlyphs" x="795.4" y="319.6" fill="#454545" font-size="11.4" font-weight="bold" style="text-anchor:end">RI</text>
<text textLength="43.3" lengthAdjust="spacingAndGlyphs" x="795.4" y="330.6" fill="#454545" font-size="11.4" style="text-anchor:end">$100.70</text>
<text textLength="20.5" lengthAdjust="spacingAndGlyphs" x="795.4" y="341.4" fill="#454545" font-size="11.4" style="text-anchor:end">#34</text>
<rect x="801.1" y="355.6" width="31" height="30.7" fill="#fdab5e"/>
<text textLength="17.5" lengthAdjust="spacingAndGlyphs" x="795.4" y="362.4" fill="#454545" font-size="11.4" font-weight="bold" style="text-anchor:end">CT</text>
<text textLength="36.6" lengthAdjust="spacingAndGlyphs" x="795.4" y="373.4" fill="#454545" font-size="11.4" style="text-anchor:end">$94.25</text>
<text textLength="20.5" lengthAdjust="spacingAndGlyphs" x="795.4" y="384.2" fill="#454545" font-size="11.4" style="text-anchor:end">#43</text>
<rect x="801.1" y="398.4" width="31" height="30.7" fill="#c22d4b"/>
<text textLength="16.8" lengthAdjust="spacingAndGlyphs" x="795.4" y="405.2" fill="#454545" font-size="11.4" font-weight="bold" style="text-anchor:end">NJ</text>
<text textLength="36.6" lengthAdjust="spacingAndGlyphs" x="795.4" y="416.2" fill="#454545" font-size="11.4" style="text-anchor:end">$86.81</text>
<text textLength="20.5" lengthAdjust="spacingAndGlyphs" x="795.4" y="427" fill="#454545" font-size="11.4" style="text-anchor:end">#47</text>
<rect x="801.1" y="441.2" width="31" height="30.7" fill="#fdfebc"/>
<text textLength="18.2" lengthAdjust="spacingAndGlyphs" x="795.4" y="448" fill="#454545" font-size="11.4" font-weight="bold" style="text-anchor:end">DE</text>
<text textLength="43.3" lengthAdjust="spacingAndGlyphs" x="795.4" y="459" fill="#454545" font-size="11.4" style="text-anchor:end">$101.21</text>
<text textLength="20.5" lengthAdjust="spacingAndGlyphs" x="795.4" y="469.8" fill="#454545" font-size="11.4" style="text-anchor:end">#33</text>
<rect x="801.1" y="484" width="31" height="30.7" fill="#f7844a"/>
<text textLength="20.4" lengthAdjust="spacingAndGlyphs" x="795.4" y="490.8" fill="#454545" font-size="11.4" font-weight="bold" style="text-anchor:end">MD</text>
<text textLength="36.6" lengthAdjust="spacingAndGlyphs" x="795.4" y="501.8" fill="#454545" font-size="11.4" style="text-anchor:end">$92.25</text>
<text textLength="20.5" lengthAdjust="spacingAndGlyphs" x="795.4" y="512.6" fill="#454545" font-size="11.4" style="text-anchor:end">#45</text>
<rect x="801.1" y="526.8" width="31" height="30.7" fill="#b72248"/>
<text textLength="18.9" lengthAdjust="spacingAndGlyphs" x="795.4" y="533.6" fill="#454545" font-size="11.4" font-weight="bold" style="text-anchor:end">DC</text>
<text textLength="36.6" lengthAdjust="spacingAndGlyphs" x="795.4" y="544.6" fill="#454545" font-size="11.4" style="text-anchor:end">$86.13</text>
<text textLength="28.7" lengthAdjust="spacingAndGlyphs" x="795.4" y="555.4" fill="#454545" font-size="11.4" style="text-anchor:end">(#49)</text></g>
<text class="l" x="31" y="47.6" font-size="27.5" font-weight="bold" fill="#3b3b3b" textLength="304" lengthAdjust="spacingAndGlyphs">The Relative Value of $100</text>
<text class="l" x="30.6" y="75.5" font-size="18.6" font-style="italic" fill="#6a6a6a" textLength="343.4" lengthAdjust="spacingAndGlyphs">What is the Real Value of $100 in Your State?</text>
<g fill="#555555" font-size="12">
<text class="l" x="29.3" y="608.8" textLength="453.2" lengthAdjust="spacingAndGlyphs">Notes: Numbers represent value of goods that $100 dollars can buy in each state</text>
<text class="l" x="29.3" y="623.5" textLength="471.7" lengthAdjust="spacingAndGlyphs">compared to the national average. The Bureau of Economic Analysis has developed a</text>
<text class="l" x="29.3" y="638.2" textLength="454.6" lengthAdjust="spacingAndGlyphs">methodology using Personal Consumption Expenditure and American Community</text>
<text class="l" x="29.3" y="653.0" textLength="480.5" lengthAdjust="spacingAndGlyphs">Survey data to estimate average price levels in each state for household consumption,</text>
<text class="l" x="29.3" y="667.7" textLength="474.7" lengthAdjust="spacingAndGlyphs">including rental housing costs. D.C.’s rank does not affect states’ ranks, but the figure</text>
<text class="l" x="29.3" y="682.6" textLength="423.1" lengthAdjust="spacingAndGlyphs">in parentheses indicates where it would rank if included. Data is as of 2018.</text>
<text class="l" x="29.3" y="701.5" textLength="340" lengthAdjust="spacingAndGlyphs">Source: U.S. Bureau of Economic Analysis, <tspan font-style="italic">Regional Price Parities</tspan>.</text>
</g>
<g fill="#555" font-size="13">
<text class="l" x="584.3" y="609.9" textLength="250" lengthAdjust="spacingAndGlyphs">The Relative Value of $100 in Each State</text>
<text class="l" x="586.3" y="668.4" textLength="25.6" lengthAdjust="spacingAndGlyphs">Less</text>
<text class="l" x="586.3" y="681.7" textLength="52.6" lengthAdjust="spacingAndGlyphs">Valuable</text>
<text class="r" x="835" y="668.4" textLength="32.8" lengthAdjust="spacingAndGlyphs">More</text>
<text class="r" x="835" y="681.7" textLength="52.6" lengthAdjust="spacingAndGlyphs">Valuable</text>
</g>
<g>
<rect x="587.2" y="622.9" width="16.6" height="26.9" fill="#9e0142"/>
<rect x="610.1" y="622.9" width="16.6" height="26.9" fill="#d53e4f"/>
<rect x="633.0" y="622.9" width="16.6" height="26.9" fill="#f46d43"/>
<rect x="655.9" y="622.9" width="16.6" height="26.9" fill="#fdae61"/>
<rect x="678.8" y="622.9" width="16.6" height="26.9" fill="#fee08b"/>
<rect x="701.7" y="622.9" width="16.6" height="26.9" fill="#ffffbf"/>
<rect x="724.6" y="622.9" width="16.6" height="26.9" fill="#e6f598"/>
<rect x="747.5" y="622.9" width="16.6" height="26.9" fill="#abdda4"/>
<rect x="770.4" y="622.9" width="16.6" height="26.9" fill="#66c2a5"/>
<rect x="793.3" y="622.9" width="16.6" height="26.9" fill="#3288bd"/>
<rect x="816.2" y="622.9" width="16.6" height="26.9" fill="#5e4fa2"/>
</g>
<rect x="2" y="713.9" width="870" height="29.5" fill="#0592fc"/>
<text class="l" x="29.4" y="734" font-size="15.4" fill="#fff" textLength="137" lengthAdjust="spacingAndGlyphs">TAX FOUNDATION</text>
<text class="r" x="843.6" y="734" font-size="15.4" font-weight="bold" fill="#fff" textLength="112.4" lengthAdjust="spacingAndGlyphs">@TaxFoundation</text>
</svg>
</body></html>
